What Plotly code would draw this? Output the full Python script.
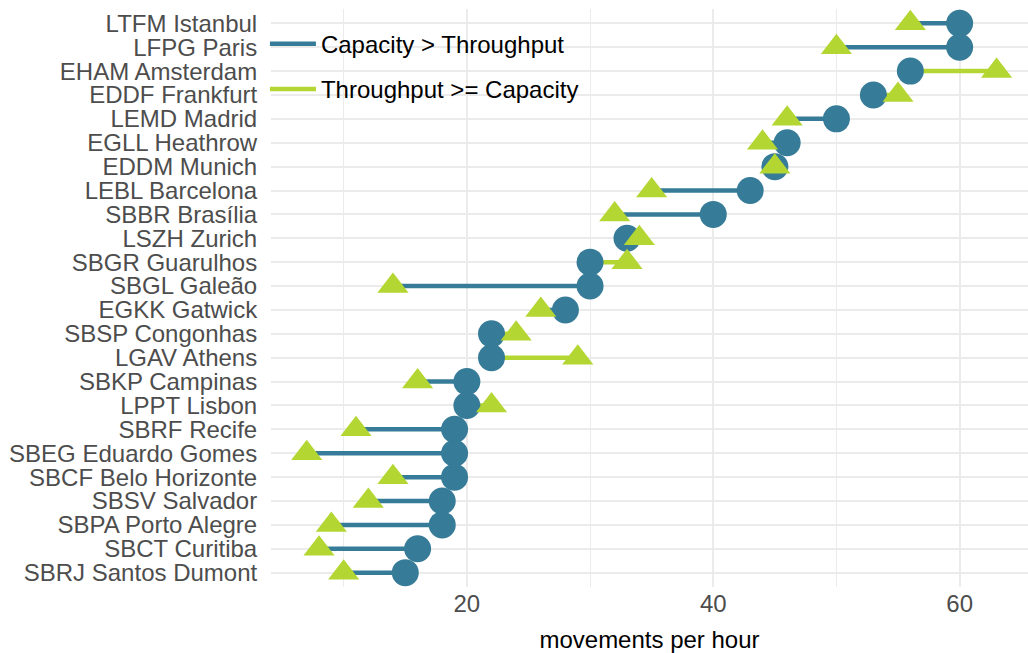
import plotly.graph_objects as go

# Airports listed top to bottom
airports = [
    "LTFM Istanbul", "LFPG Paris", "EHAM Amsterdam", "EDDF Frankfurt",
    "LEMD Madrid", "EGLL Heathrow", "EDDM Munich", "LEBL Barcelona",
    "SBBR Brasília", "LSZH Zurich", "SBGR Guarulhos", "SBGL Galeão",
    "EGKK Gatwick", "SBSP Congonhas", "LGAV Athens", "SBKP Campinas",
    "LPPT Lisbon", "SBRF Recife", "SBEG Eduardo Gomes", "SBCF Belo Horizonte",
    "SBSV Salvador", "SBPA Porto Alegre", "SBCT Curitiba", "SBRJ Santos Dumont",
]
capacity = [60, 60, 56, 53, 50, 46, 45, 43, 40, 33, 30, 30,
            28, 22, 22, 20, 20, 19, 19, 19, 18, 18, 16, 15]
throughput = [56, 50, 63, 55, 46, 44, 45, 35, 32, 34, 33, 14,
              26, 24, 29, 16, 22, 11, 7, 14, 12, 9, 8, 10]
legend_labels = ["Capacity > Throughput", "Throughput >= Capacity"]
x_ticks = [20, 40, 60]

TEAL = "#367B97"
GREEN = "#B3D633"

fig = go.Figure()

groups = {0: ([], []), 1: ([], [])}
for a, c, t in zip(airports, capacity, throughput):
    g = 0 if c > t else 1
    xs, ys = groups[g]
    xs += [c, t, None]
    ys += [a, a, None]

for g, col in [(0, TEAL), (1, GREEN)]:
    xs, ys = groups[g]
    fig.add_trace(go.Scatter(
        x=xs, y=ys, mode="lines", line=dict(color=col, width=4.5),
        name=legend_labels[g], legendgroup=str(g), showlegend=True,
        hoverinfo="skip",
    ))

fig.add_trace(go.Scatter(
    x=capacity, y=airports, mode="markers",
    marker=dict(symbol="circle", size=27, color=TEAL, line=dict(width=0)),
    showlegend=False, name="Capacity",
))
fig.add_trace(go.Scatter(
    x=throughput, y=airports, mode="markers",
    marker=dict(symbol="triangle-up", size=27, color=GREEN, line=dict(width=0)),
    showlegend=False, name="Throughput",
))

fig.update_layout(
    width=1028, height=653,
    margin=dict(l=271, r=0, t=9, b=66),
    plot_bgcolor="white", paper_bgcolor="white",
    font=dict(family="Liberation Sans, Arial, sans-serif", size=24, color="#4D4D4D"),
    legend=dict(
        x=-0.008, y=0.978, xanchor="left", yanchor="top",
        bgcolor="rgba(0,0,0,0)", font=dict(size=24, color="black"),
        tracegroupgap=11, traceorder="grouped", itemwidth=46,
    ),
    showlegend=True,
)
fig.update_yaxes(
    type="category", categoryorder="array", categoryarray=airports[::-1],
    tickmode="linear", dtick=1, tick0=0,
    range=[-0.6, len(airports) - 0.4], automargin=False,
    showgrid=True, gridcolor="#EBEBEB", gridwidth=2.2,
    zeroline=False, showline=False,
    ticks="outside", ticklen=8, tickcolor="rgba(0,0,0,0)",
    tickfont=dict(size=24, color="#4D4D4D"),
)
fig.update_xaxes(
    range=[4.1, 65.55], tickvals=x_ticks, automargin=False,
    showgrid=True, gridcolor="#EBEBEB", gridwidth=2.2,
    minor=dict(showgrid=True, dtick=10, tick0=0, gridcolor="#EBEBEB", gridwidth=1.2),
    zeroline=False, showline=False,
    ticks="", tickfont=dict(size=24, color="#4D4D4D"),
    title=dict(text="movements per hour", font=dict(size=24, color="black"), standoff=15),
)

fig.write_html("out.html", config={"displayModeBar": False},
               post_script="document.body.style.margin='0px';")
